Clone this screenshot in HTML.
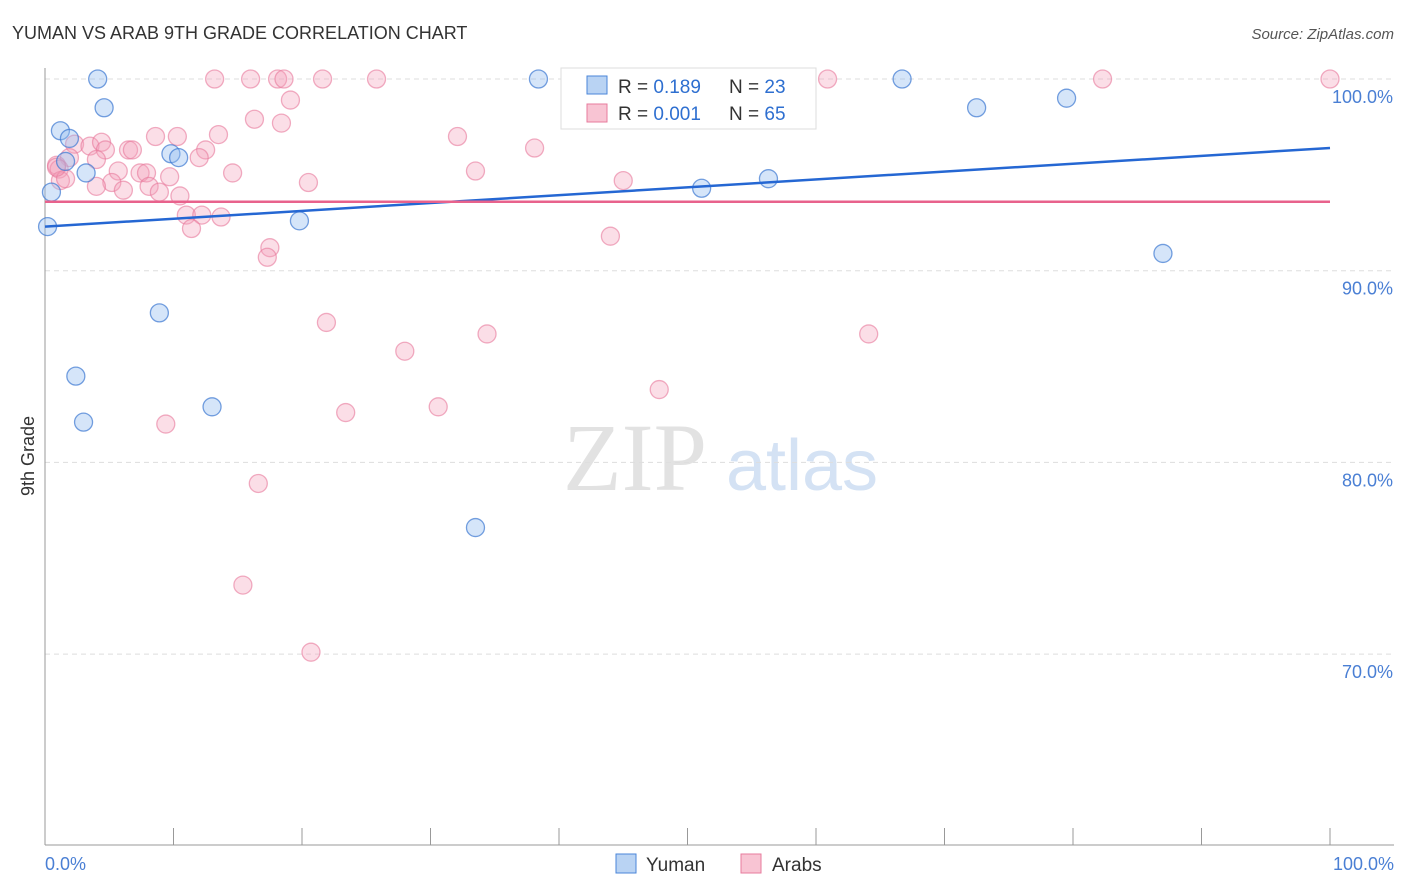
<!DOCTYPE html>
<html><head><meta charset="utf-8"><style>
body{margin:0;background:#fff;font-family:"Liberation Sans",sans-serif}
svg{display:block}
</style></head><body>
<svg id="chart" width="1406" height="892">
<text x="12" y="39" font-size="18" fill="#333">YUMAN VS ARAB 9TH GRADE CORRELATION CHART</text>
<text x="1394" y="39" font-size="15" fill="#555" font-style="italic" text-anchor="end">Source: ZipAtlas.com</text>
<g>
<text x="635" y="490" font-size="96" fill="#e2e2e2" font-family="Liberation Serif" text-anchor="middle">ZIP</text>
<text x="802" y="490" font-size="72" fill="#d4e2f4" text-anchor="middle">atlas</text>
</g>
<g id="grid"></g><g id="axes"></g><g id="pts"></g><g id="trend"></g>
<text transform="translate(34,456) rotate(-90)" font-size="18" fill="#333" text-anchor="middle">9th Grade</text>
<g>
<rect x="561" y="68" width="255" height="61" fill="#fff" stroke="#ddd"/>
<rect x="587" y="76" width="20" height="18" fill="#b9d3f3" stroke="#4a86d8"/>
<text x="618" y="93" font-size="19" fill="#333">R = <tspan fill="#2e6fd0">0.189</tspan></text>
<text x="729" y="93" font-size="19" fill="#333">N = <tspan fill="#2e6fd0">23</tspan></text>
<rect x="587" y="104" width="20" height="18" fill="#f8c4d3" stroke="#e77b9c"/>
<text x="618" y="120" font-size="19" fill="#333">R = <tspan fill="#2e6fd0">0.001</tspan></text>
<text x="729" y="120" font-size="19" fill="#333">N = <tspan fill="#2e6fd0">65</tspan></text>
</g>
<g>
<rect x="616" y="854" width="20" height="19" fill="#b9d3f3" stroke="#4a86d8"/>
<text x="646" y="871" font-size="19" fill="#333">Yuman</text>
<rect x="741" y="854" width="20" height="19" fill="#f8c4d3" stroke="#e77b9c"/>
<text x="772" y="871" font-size="19" fill="#333">Arabs</text>
</g>
</svg>
<script>
const yTicks=[100,90,80,70];
const yTickLabels=["100.0%","90.0%","80.0%","70.0%"];
const xEndLabels=["0.0%","100.0%"];
const yumanX=[4.1,4.6,1.2,1.9,1.6,3.2,0.5,0.2,9.8,10.4,19.8,8.9,2.4,3.0,13.0,33.5,38.4,51.1,56.3,66.7,72.5,79.5,87.0];
const yumanY=[100,98.5,97.3,96.9,95.7,95.1,94.1,92.3,96.1,95.9,92.6,87.8,84.5,82.1,82.9,76.6,100,94.3,94.8,100,98.5,99.0,90.9];
const arabX=[13.2,16.0,18.1,18.6,21.6,25.8,46.9,60.9,82.3,100,19.1,16.3,18.4,32.1,8.6,10.3,13.5,38.1,2.3,3.5,4.4,4.7,6.5,6.8,12.5,12.0,1.9,0.9,1.1,1.2,1.6,4.0,5.7,7.4,7.9,9.7,14.6,33.5,20.5,45.0,5.2,6.1,8.1,8.9,10.5,11.0,12.2,13.7,11.4,44.0,17.5,17.3,21.9,34.4,64.1,28.0,47.8,23.4,30.6,9.4,16.6,15.4,20.7,0.9,4.0];
const arabY=[100,100,100,100,100,100,100,100,100,100,98.9,97.9,97.7,97.0,97.0,97.0,97.1,96.4,96.6,96.5,96.7,96.3,96.3,96.3,96.3,95.9,95.9,95.5,95.3,94.7,94.8,95.8,95.2,95.1,95.1,94.9,95.1,95.2,94.6,94.7,94.6,94.2,94.4,94.1,93.9,92.9,92.9,92.8,92.2,91.8,91.2,90.7,87.3,86.7,86.7,85.8,83.8,82.6,82.9,82.0,78.9,73.6,70.1,95.4,94.4];
const yumanTrend=[92.3,96.4];
const arabTrend=[93.6,93.6];
const NS="http://www.w3.org/2000/svg";
const X=v=>45+v*12.85, Y=v=>79+(100-v)*19.17;
function mk(tag,attrs,parent){const e=document.createElementNS(NS,tag);for(const k in attrs)e.setAttribute(k,attrs[k]);document.getElementById(parent).appendChild(e);return e;}
yTicks.forEach((t,i)=>{
 const l=mk('line',{x1:45,x2:1394,y1:Y(t),y2:Y(t),stroke:'#ddd','stroke-dasharray':'5,4'},'grid');
 
 
 const tx=mk('text',{x:1393,y:Y(t)+24,'font-size':18,fill:'#4a7fd4','text-anchor':'end'},'grid');
 tx.textContent=yTickLabels[i];
 
 
});
const ax=mk('line',{x1:45,x2:45,y1:68,y2:845,stroke:'#999'},'axes');


const bx=mk('line',{x1:45,x2:1394,y1:845,y2:845,stroke:'#999'},'axes');


for(let i=0;i<=10;i++){
 const t=mk('line',{x1:X(i*10),x2:X(i*10),y1:828,y2:845,stroke:'#999'},'axes');
 
 
}
[[0,'start',45],[100,'end',1394]].forEach((d,i)=>{
 const t=mk('text',{x:d[2],y:870,'font-size':18,fill:'#4a7fd4','text-anchor':d[1]},'axes');
 t.textContent=xEndLabels[i];
 
 
});
arabX.forEach((v,i)=>{
 const c=mk('circle',{cx:X(v),cy:Y(arabY[i]),r:9,fill:'rgba(243,160,186,0.35)',stroke:'rgba(232,120,155,0.6)','stroke-width':1.3},'pts');
 
 
});
yumanX.forEach((v,i)=>{
 const c=mk('circle',{cx:X(v),cy:Y(yumanY[i]),r:9,fill:'rgba(150,190,240,0.4)',stroke:'rgba(60,120,210,0.7)','stroke-width':1.3},'pts');
 
 
});
const tb=mk('line',{x1:X(0),x2:X(100),y1:Y(yumanTrend[0]),y2:Y(yumanTrend[1]),stroke:'#2567d3','stroke-width':2.5},'trend');


const tp=mk('line',{x1:X(0),x2:X(100),y1:Y(arabTrend[0]),y2:Y(arabTrend[1]),stroke:'#e8628c','stroke-width':2.5},'trend');


</script>
</body></html>
